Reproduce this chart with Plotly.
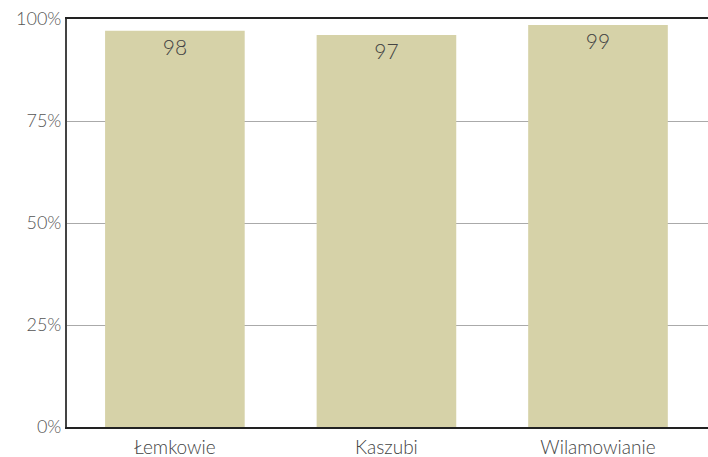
import plotly.graph_objects as go

categories = ["Łemkowie", "Kaszubi", "Wilamowianie"]
values = [97.1, 96.1, 98.5]
labels = ["98", "97", "99"]
tick_vals = [0, 25, 50, 75, 100]
tick_text = ["0%", "25%", "50%", "75%", "100%"]

fig = go.Figure(go.Bar(
    x=categories, y=values, text=labels, textposition="inside",
    insidetextanchor="end",
    textfont=dict(family="Lato", size=21, color="#444444", weight=300),
    marker=dict(color="#D6D2A8", line=dict(width=0)),
    width=0.66, hoverinfo="skip",
))

fig.update_layout(
    width=708, height=457,
    margin=dict(l=67, r=0, t=19, b=30, autoexpand=False),
    plot_bgcolor="white", paper_bgcolor="white",
    font=dict(family="Lato", color="#555555"),
    showlegend=False,
    uniformtext=dict(mode=False),
)
fig.update_xaxes(
    range=[-0.51, 2.52], showline=True, linecolor="#222222", linewidth=2,
    mirror=True, ticks="", automargin=False, ticklabelstandoff=2,
    tickfont=dict(family="Lato", size=19, color="#444444", weight=300),
    showgrid=False,
)
fig.update_yaxes(
    range=[0, 100], tickvals=tick_vals, ticktext=tick_text,
    showline=True, linecolor="#444444", linewidth=2, automargin=False,
    showgrid=True, gridcolor="#aaaaaa", gridwidth=1,
    ticks="", tickfont=dict(family="Lato", size=18, color="#555555", weight=300),
    zeroline=False,
)
fig.write_html(
    "out.html",
    config={"displayModeBar": False},
    post_script="document.body.style.margin='0';document.body.style.overflow='hidden';",
)
